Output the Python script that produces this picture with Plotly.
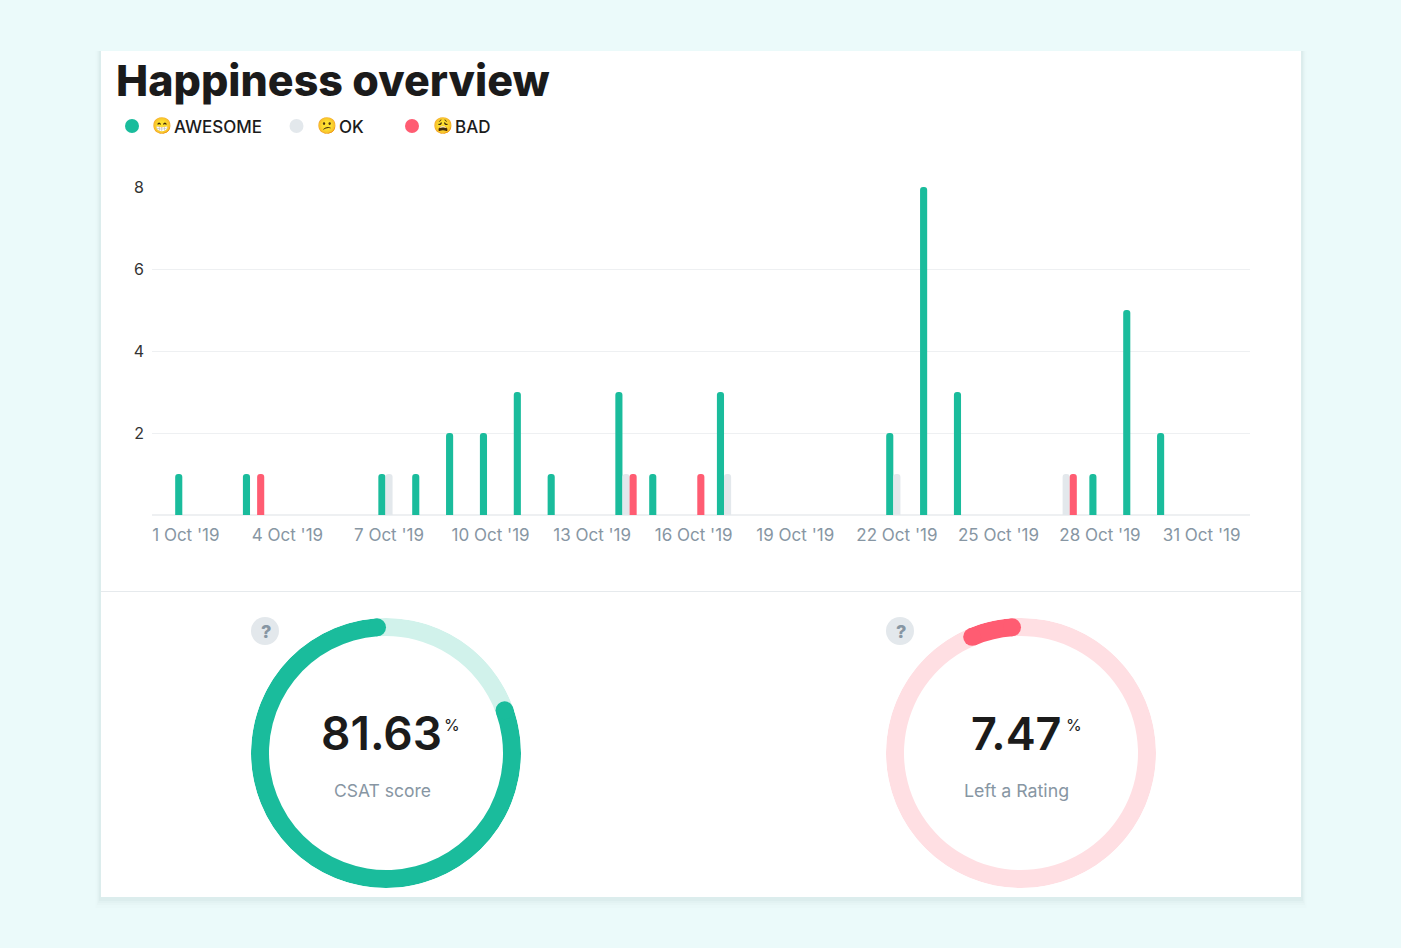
import math
import plotly.graph_objects as go

W, H = 1401, 948

# ---- data ----
days = list(range(1, 32))
awesome = [1,0,1,0,0,0,1,1,2,2,3,1,0,3,1,0,3,0,0,0,0,2,8,3,0,0,0,1,5,2,0]
ok      = [0,0,0,0,0,0,1,0,0,0,0,0,0,1,0,0,1,0,0,0,0,1,0,0,0,0,1,0,0,0,0]
bad     = [0,0,1,0,0,0,0,0,0,0,0,0,0,1,0,1,0,0,0,0,0,0,0,0,0,0,1,0,0,0,0]
tick_days = [1,4,7,10,13,16,19,22,25,28,31]
tick_labels = ["1 Oct '19","4 Oct '19","7 Oct '19","10 Oct '19","13 Oct '19","16 Oct '19",
               "19 Oct '19","22 Oct '19","25 Oct '19","28 Oct '19","31 Oct '19"]
y_ticks = [2,4,6,8]
csat_score = 81.63
left_rating = 7.47

GREEN, GREY, RED = "#1abc9c", "#e3e8ec", "#ff5c72"
GREEN_L, RED_L = "#d1f2eb", "#ffdfe3"
MUTED = "#8796a3"
INK = "#1b1b1b"
BG = "#ebfafa"
FONT = "Inter"

def xf(px): return px / W
def yf(py): return 1 - py / H

fig = go.Figure()
for name, vals, col in [("AWESOME", awesome, GREEN), ("OK", ok, GREY), ("BAD", bad, RED)]:
    fig.add_bar(x=days, y=vals, name=name, marker_color=col, marker_line_width=0, showlegend=False)

R_OUT, THICK = 135, 18
R_MID = R_OUT - THICK / 2
CAP_DEG = math.degrees((THICK / 2) / R_MID)

def ring(pct, dark, light, polar):
    arc = pct * 3.6 - 2 * CAP_DEG
    start = -CAP_DEG
    end = start - arc
    fig.add_barpolar(r=[THICK], base=[R_OUT - THICK], theta=[start + (360 - arc) / 2], width=[360 - arc],
                     marker_color=light, marker_line_width=0, subplot=polar, showlegend=False)
    fig.add_barpolar(r=[THICK], base=[R_OUT - THICK], theta=[start - arc / 2], width=[arc],
                     marker_color=dark, marker_line_width=0, subplot=polar, showlegend=False)
    fig.add_scatterpolar(r=[R_MID, R_MID], theta=[start, end], mode="markers",
                         marker=dict(size=THICK, color=dark, line_width=0),
                         subplot=polar, showlegend=False)

ring(csat_score, GREEN, GREEN_L, "polar")
ring(left_rating, RED, RED_L, "polar2")

def polar_layout(x0, x1):
    return dict(domain=dict(x=[xf(x0), xf(x1)], y=[yf(888), yf(618)]), bgcolor="rgba(0,0,0,0)",
                barmode="overlay",
                radialaxis=dict(visible=False, range=[0, R_OUT]),
                angularaxis=dict(visible=False, rotation=90, direction="clockwise"))

shapes = []
# card shadow
for i, a in [(11, .012), (8, .015), (6, .02), (4, .03)]:
    shapes.append(dict(type="rect", xref="paper", yref="paper", x0=xf(101-i/2), x1=xf(1301+i/2),
                       y0=yf(897+i), y1=yf(51), fillcolor=f"rgba(60,90,90,{a})", line_width=0, layer="below"))
shapes.append(dict(type="rect", xref="paper", yref="paper", x0=xf(101), x1=xf(1301), y0=yf(897), y1=yf(51),
                   fillcolor="#ffffff", line_width=0, layer="below"))
shapes.append(dict(type="line", xref="paper", yref="paper", x0=xf(101), x1=xf(1301), y0=yf(591.5), y1=yf(591.5),
                   line=dict(color="#e6eaed", width=1)))

def dot(cx, cy, r, col):
    shapes.append(dict(type="circle", xref="paper", yref="paper", x0=xf(cx-r), x1=xf(cx+r),
                       y0=yf(cy+r), y1=yf(cy-r), fillcolor=col, line_width=0))

dot(132, 126, 7, GREEN); dot(296.5, 126, 7, GREY); dot(412, 126, 7, RED)
dot(265, 631, 14, GREY); dot(900, 631, 14, GREY)

ann = []
def text(t, x, y, size, color, anchor="left", weight=400):
    ann.append(dict(text=t, xref="paper", yref="paper", x=xf(x), y=yf(y), xanchor=anchor, yanchor="middle",
                    showarrow=False, font=dict(family=FONT, size=size, color=color, weight=weight)))

text("Happiness overview", 114, 80, 43, INK, weight=800)
text("😁", 150, 125, 16, "#f5a623"); text("AWESOME", 172, 126.5, 17, INK, weight=500)
text("😕", 315, 125, 16, "#f5a623"); text("OK", 337, 126.5, 17, INK, weight=500)
text("😩", 431, 125, 16, "#f5a623"); text("BAD", 453, 126.5, 17, INK, weight=500)
text("?", 265.5, 631, 18, MUTED, "center", 800); text("?", 900.5, 631, 18, MUTED, "center", 800)
text(f"{csat_score:.2f}", 381, 733, 46, INK, "center", 600); text("%", 452, 725, 16, INK, "center")
text("CSAT score", 382, 790.5, 17.5, MUTED, "center")
text(f"{left_rating:.2f}", 1016, 733, 45, INK, "center", 600); text("%", 1073.5, 725, 16, INK, "center")
text("Left a Rating", 1016.5, 790.5, 17.8, MUTED, "center")

fig.update_layout(
    width=W, height=H, margin=dict(l=0, r=0, t=0, b=0), autosize=False,
    paper_bgcolor=BG, plot_bgcolor="rgba(0,0,0,0)",
    barmode="group", bargap=0.37, bargroupgap=0, barcornerradius=3,
    font=dict(family=FONT),
    xaxis=dict(domain=[xf(152), xf(1250)], range=[0, 32.43], tickmode="array", tickvals=tick_days,
               ticktext=tick_labels, showgrid=False, zeroline=False, showline=False, ticks="",
               automargin=False, ticklabelstandoff=8,
               tickfont=dict(size=17, color=MUTED, family=FONT)),
    yaxis=dict(domain=[yf(515), yf(187)], range=[0, 8], tickmode="array", tickvals=y_ticks,
               gridcolor="#eef0f2", gridwidth=1, zeroline=True, zerolinecolor="#eef0f2", showline=False,
               automargin=False, ticklabelstandoff=7,
               ticks="", tickfont=dict(size=16, color="#333333", family=FONT)),
    polar=polar_layout(251, 521), polar2=polar_layout(886, 1156),
    shapes=shapes, annotations=ann,
)

fig.write_html("out.html", config={"displayModeBar": False},
               post_script=f"document.body.style.margin='0';document.body.style.background='{BG}';document.documentElement.style.overflow='hidden';")
